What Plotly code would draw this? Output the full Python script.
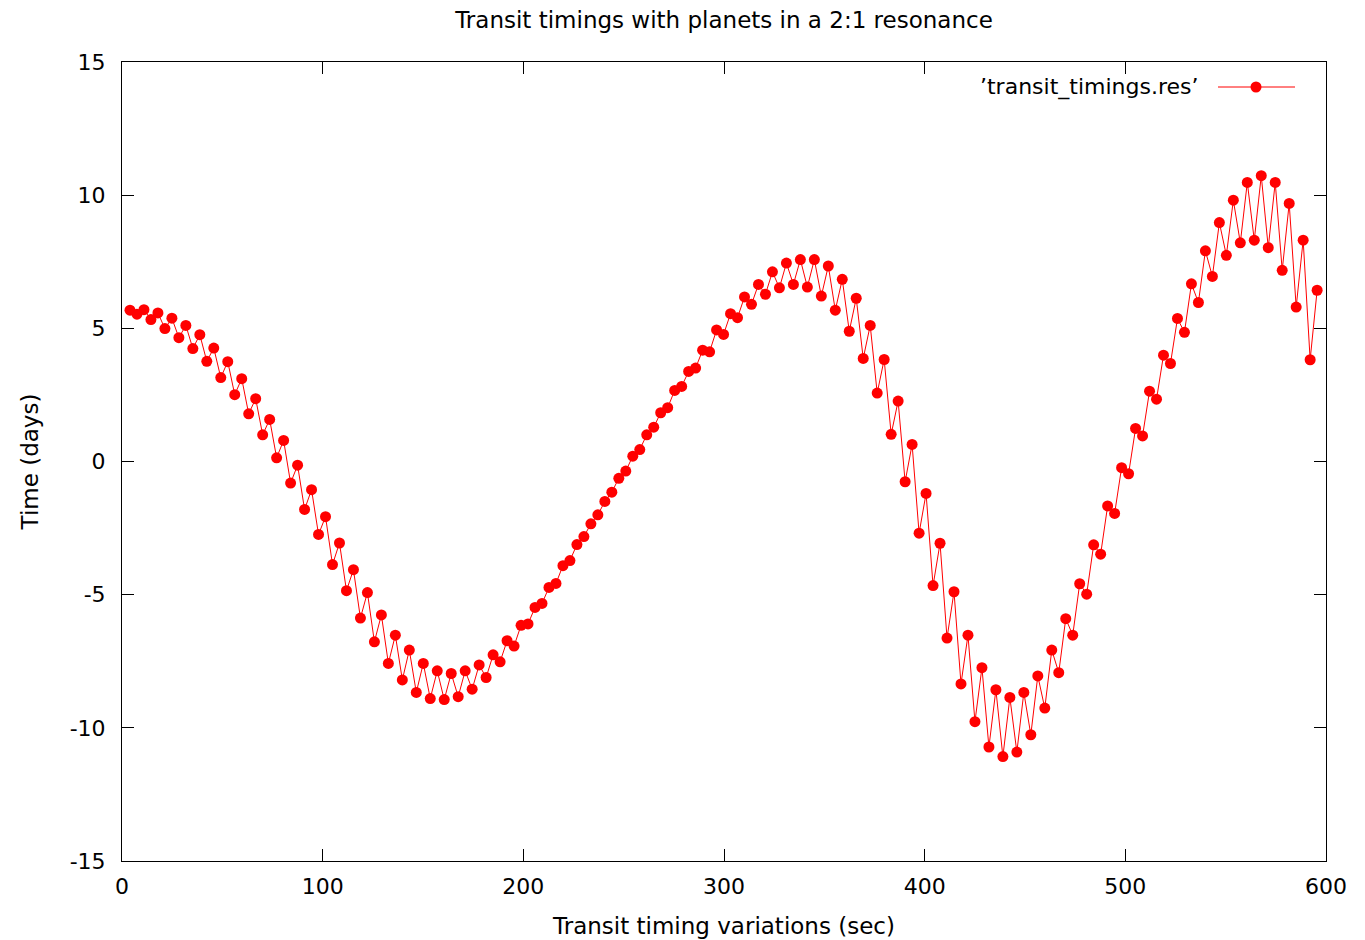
import plotly.graph_objects as go

# Transit time (days) of each transit
x_vals = [
    3.98, 7.46, 10.94, 14.42, 17.90, 21.38, 24.86, 28.34, 31.82, 35.30,
    38.78, 42.26, 45.74, 49.22, 52.70, 56.18, 59.66, 63.14, 66.62, 70.10,
    73.58, 77.06, 80.54, 84.02, 87.50, 90.98, 94.46, 97.94, 101.42, 104.90,
    108.38, 111.86, 115.34, 118.82, 122.30, 125.78, 129.26, 132.74, 136.22, 139.70,
    143.18, 146.66, 150.14, 153.62, 157.10, 160.58, 164.06, 167.54, 171.02, 174.50,
    177.98, 181.46, 184.94, 188.42, 191.90, 195.38, 198.86, 202.34, 205.82, 209.30,
    212.78, 216.26, 219.74, 223.22, 226.70, 230.18, 233.66, 237.14, 240.62, 244.10,
    247.58, 251.06, 254.54, 258.02, 261.50, 264.98, 268.46, 271.94, 275.42, 278.90,
    282.38, 285.86, 289.34, 292.82, 296.30, 299.78, 303.26, 306.74, 310.22, 313.70,
    317.18, 320.66, 324.14, 327.62, 331.10, 334.58, 338.06, 341.54, 345.02, 348.50,
    351.98, 355.46, 358.94, 362.42, 365.90, 369.38, 372.86, 376.34, 379.82, 383.30,
    386.78, 390.26, 393.74, 397.22, 400.70, 404.18, 407.66, 411.14, 414.62, 418.10,
    421.58, 425.06, 428.54, 432.02, 435.50, 438.98, 442.46, 445.94, 449.42, 452.90,
    456.38, 459.86, 463.34, 466.82, 470.30, 473.78, 477.26, 480.74, 484.22, 487.70,
    491.18, 494.66, 498.14, 501.62, 505.10, 508.58, 512.06, 515.54, 519.02, 522.50,
    525.98, 529.46, 532.94, 536.42, 539.90, 543.38, 546.86, 550.34, 553.82, 557.30,
    560.78, 564.26, 567.74, 571.22, 574.70, 578.18, 581.66, 585.14, 588.62, 592.10,
    595.58,
]

# Timing variation of each transit
y_vals = [
    5.68, 5.53, 5.70, 5.33, 5.58, 4.99, 5.38, 4.65, 5.11, 4.24,
    4.76, 3.76, 4.26, 3.15, 3.75, 2.51, 3.11, 1.79, 2.36, 1.00,
    1.58, 0.14, 0.79, -0.81, -0.14, -1.80, -1.06, -2.74, -2.07, -3.87,
    -3.06, -4.85, -4.06, -5.88, -4.92, -6.77, -5.76, -7.58, -6.52, -8.20,
    -7.08, -8.67, -7.58, -8.90, -7.86, -8.94, -7.96, -8.83, -7.86, -8.55,
    -7.64, -8.11, -7.26, -7.52, -6.73, -6.93, -6.15, -6.10, -5.48, -5.33,
    -4.73, -4.58, -3.91, -3.72, -3.12, -2.82, -2.34, -2.00, -1.50, -1.15,
    -0.63, -0.36, 0.20, 0.45, 1.00, 1.29, 1.83, 2.02, 2.67, 2.82,
    3.38, 3.51, 4.18, 4.12, 4.94, 4.77, 5.55, 5.40, 6.18, 5.90,
    6.65, 6.28, 7.12, 6.52, 7.45, 6.65, 7.58, 6.55, 7.58, 6.21,
    7.34, 5.68, 6.84, 4.89, 6.13, 3.87, 5.11, 2.57, 3.83, 1.02,
    2.27, -0.76, 0.64, -2.69, -1.20, -4.66, -3.07, -6.63, -4.89, -8.35,
    -6.52, -9.77, -7.74, -10.72, -8.57, -11.08, -8.86, -10.91, -8.67, -10.26,
    -8.05, -9.26, -7.08, -7.93, -5.90, -6.52, -4.59, -4.98, -3.13, -3.48,
    -1.67, -1.95, -0.23, -0.46, 1.24, 0.96, 2.64, 2.34, 3.99, 3.68,
    5.37, 4.85, 6.67, 5.97, 7.91, 6.95, 8.97, 7.74, 9.81, 8.21,
    10.48, 8.31, 10.73, 8.03, 10.48, 7.18, 9.69, 5.80, 8.31, 3.82,
    6.43,
]

x_ticks = [0, 100, 200, 300, 400, 500, 600]
y_ticks = [-15, -10, -5, 0, 5, 10, 15]

title_text = "Transit timings with planets in a 2:1 resonance"
x_title = "Transit timing variations (sec)"
y_title = "Time (days)"
series_name = "\u2019transit_timings.res\u2019"

RED = "#ff0000"
FONT = "DejaVu Sans"

fig = go.Figure()
fig.add_trace(go.Scatter(
    x=x_vals, y=y_vals, mode="lines+markers", name=series_name,
    line=dict(color=RED, width=1),
    marker=dict(color=RED, size=11, line=dict(width=0)),
    showlegend=False,
))

W, H = 1365, 940
L, R, T, B = 122, 39, 62, 79
pw, ph = W - L - R, H - T - B


def px_x(p):
    return (p - L) / pw


def px_y(p):
    return (H - B - p) / ph


axis_common = dict(
    showline=True, linecolor="black", linewidth=1, mirror="ticks",
    ticks="inside", ticklen=12, tickcolor="black", tickwidth=1,
    showgrid=False, zeroline=False,
    tickfont=dict(family=FONT, size=22, color="black"),
)

fig.update_xaxes(
    range=[0, 600], tickvals=x_ticks, ticktext=[str(v) for v in x_ticks],
    ticklabelstandoff=6,
    title=dict(text=x_title, font=dict(family=FONT, size=23, color="black"), standoff=19),
    **axis_common,
)
fig.update_yaxes(
    range=[-15, 15], tickvals=y_ticks, ticktext=[str(v) for v in y_ticks],
    ticklabelstandoff=11,
    title=dict(text=y_title, font=dict(family=FONT, size=23, color="black"), standoff=24),
    **axis_common,
)

# gnuplot-style key: text, then line sample with a point
ly = px_y(87)
fig.add_annotation(
    x=px_x(1201), y=ly, xref="paper", yref="paper", xanchor="right", yanchor="middle",
    text=series_name, showarrow=False, font=dict(family=FONT, size=22, color="black"),
)
fig.add_shape(type="line", xref="paper", yref="paper",
              x0=px_x(1218), x1=px_x(1295), y0=ly, y1=ly,
              line=dict(color=RED, width=1))
fig.add_shape(type="circle", xref="paper", yref="paper",
              xsizemode="pixel", ysizemode="pixel",
              xanchor=px_x(1256), yanchor=ly, x0=-5.5, x1=5.5, y0=-5.5, y1=5.5,
              fillcolor=RED, line=dict(color=RED, width=0))

fig.update_layout(
    width=W, height=H,
    margin=dict(l=L, r=R, t=T, b=B, autoexpand=False),
    paper_bgcolor="white", plot_bgcolor="white",
    title=dict(text=title_text, x=0.5, xref="paper", xanchor="center",
               y=1 - 20 / H, yref="container", yanchor="middle",
               font=dict(family=FONT, size=23, color="black")),
    font=dict(family=FONT, color="black"),
)

fig.write_html("out.html")
